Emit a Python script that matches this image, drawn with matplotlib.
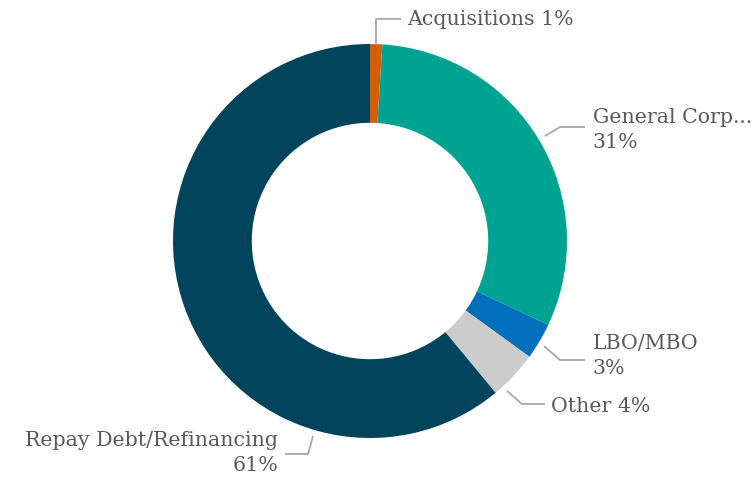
import matplotlib.pyplot as plt

# donut of use-of-proceeds shares
labels = ['Acquisitions', 'General Corp...', 'LBO/MBO', 'Other', 'Repay Debt/Refinancing']
values = [1, 31, 3, 4, 61]
colors = ['#D35F0A', '#00A391', '#0070BD', '#CCCCCC', '#02445B']

W, H = 755, 481
cx, cy, R = 370, 242, 197   # centre and outer radius in pixels

fig = plt.figure(figsize=(W / 100, H / 100), dpi=100)
ax = fig.add_axes([0, 0, 1, 1])
ax.pie(values, colors=colors, startangle=90, counterclock=False,
       radius=1.0, wedgeprops=dict(width=0.4, linewidth=0))
ax.set_xlim(-cx / R, (W - cx) / R)
ax.set_ylim(-(H - cy) / R, cy / R)
ax.set_aspect('equal')
ax.axis('off')

def px(x, y):
    # pixel position (from top-left) -> data coords
    return (x - cx) / R, (cy - y) / R

# leader lines: start on ring, elbow, end
start = [(376, 46), (545, 137), (544, 347), (507, 392), (313, 437)]
elbow = [(376, 20), (560, 128), (560, 361), (522, 405), (308, 455)]
tail = [(401, 20), (585, 128), (585, 361), (545, 405), (285, 455)]
texts = [f'{labels[0]} {values[0]}%', f'{labels[1]}\n{values[1]}%',
         f'{labels[2]}\n{values[2]}%', f'{labels[3]} {values[3]}%',
         f'{labels[4]}\n{values[4]}%']
anchor = [(407, 20, 'left'), (593, 130, 'left'), (593, 356, 'left'),
          (551, 406, 'left'), (278, 453, 'right')]

for i in range(len(values)):
    pts = [px(*start[i]), px(*elbow[i]), px(*tail[i])]
    ax.plot([p[0] for p in pts], [p[1] for p in pts], color='#A6A6A6', lw=1.3,
            solid_capstyle='butt')
    lx, ly = px(anchor[i][0], anchor[i][1])
    ax.text(lx, ly, texts[i], ha=anchor[i][2], va='center', color='#595959',
            fontsize=14.8, family='DejaVu Serif', linespacing=1.4,
            multialignment=anchor[i][2])

fig.savefig('out.png', dpi=100)
